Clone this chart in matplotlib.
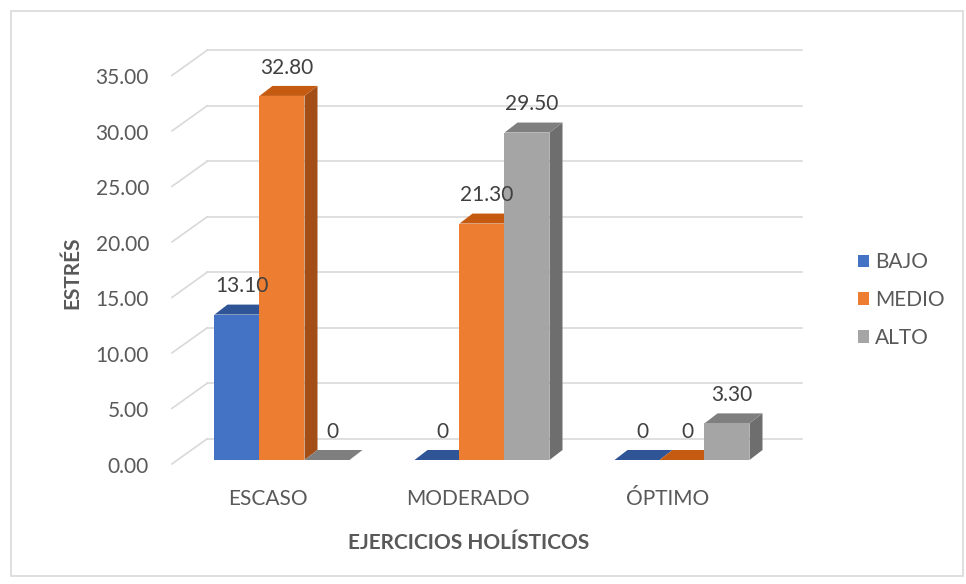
"""3D-looking clustered column chart: estrés by ejercicios holísticos."""

import matplotlib.pyplot as plt
from matplotlib.patches import Polygon, Patch, Rectangle

plt.rcParams["font.family"] = ["Lato", "DejaVu Sans"]

CATEGORIES = ["ESCASO", "MODERADO", "ÓPTIMO"]
SERIES = ["BAJO", "MEDIO", "ALTO"]
BAJO = [13.10, 0, 0]
MEDIO = [32.80, 21.30, 0]
ALTO = [0, 29.50, 3.30]
Y_TICKS = [0, 5, 10, 15, 20, 25, 30, 35]

FRONT = ["#4472C4", "#ED7D31", "#A5A5A5"]
TOP = ["#2F5597", "#C55A11", "#7F7F7F"]
SIDE = ["#2E4F8A", "#A24E16", "#6E6E6E"]
TEXT = "#595959"
GRID = "#D9D9D9"

W_PX, H_PX = 966, 584
BASE_PX, UNIT_PX = 460, 11.1      # pixel row of value 0, pixels per value unit
CAT0_PX, CAT_PX = 282, 200        # pixel column of first category, pixels per category


def px_x(p):
    return (p - CAT0_PX) / CAT_PX


def px_y(p):
    return (BASE_PX - p) / UNIT_PX


fig = plt.figure(figsize=(W_PX / 100, H_PX / 100), dpi=100)
ax = fig.add_axes([0, 0, 1, 1])
ax.set_xlim(px_x(0), px_x(W_PX))
ax.set_ylim(px_y(H_PX), px_y(0))
ax.axis("off")

fig.patches.append(Rectangle((11 / W_PX, 1 - 576 / H_PX), 952 / W_PX, 565 / H_PX,
                             transform=fig.transFigure, fill=False, edgecolor=GRID, lw=1.2))

# back wall gridlines and the short diagonals from the value labels
back_dy = 1.9
x_front, x_back, x_end = px_x(172), px_x(207), px_x(802)
for v in Y_TICKS:
    ax.plot([x_back, x_end], [v + back_dy, v + back_dy], color=GRID, lw=1.2, zorder=1)
    ax.plot([x_front, x_back], [v - 0.35, v + back_dy], color=GRID, lw=1.2, zorder=1)
    ax.text(px_x(149), v - 0.6, f"{v:.2f}", ha="right", va="center", fontsize=15, color=TEXT)

# columns with fake depth
bw = 45 / CAT_PX
dx, dy = 13 / CAT_PX, 10 / UNIT_PX
z = 2
for ci in range(len(CATEGORIES)):
    for si, vals in enumerate([BAJO, MEDIO, ALTO]):
        h = vals[ci]
        xc = ci + (si - 1) * bw
        x0, x1 = xc - bw / 2, xc + bw / 2
        ax.add_patch(Polygon([(x1, 0), (x1 + dx, dy), (x1 + dx, h + dy), (x1, h)],
                             closed=True, facecolor=SIDE[si], edgecolor="none", zorder=z))
        ax.add_patch(Polygon([(x0, h), (x1, h), (x1 + dx, h + dy), (x0 + dx, h + dy)],
                             closed=True, facecolor=TOP[si], edgecolor="none", zorder=z))
        ax.bar(xc, h, width=bw, bottom=0, color=FRONT[si], edgecolor="none", zorder=z + 0.5)
        label = "0" if h == 0 else f"{h:.2f}"
        ax.text(xc + 0.025, h + 2.55, label, ha="center", va="center",
                fontsize=15, color="#404040", zorder=10)
        z += 1

for ci, name in enumerate(CATEGORIES):
    ax.text(ci - 0.07, px_y(499), name, ha="center", va="center", fontsize=15, color=TEXT)

ax.text(px_x(469), px_y(543), "EJERCICIOS HOLÍSTICOS", ha="center", va="center",
        fontsize=15, fontweight="bold", color=TEXT)
ax.text(px_x(72), px_y(273), "ESTRÉS", ha="center", va="center", rotation=90,
        fontsize=15, fontweight="bold", color=TEXT)

handles = [Patch(facecolor=c, edgecolor="none", label=s) for c, s in zip(FRONT, SERIES)]
ax.legend(handles=handles, loc="center left", bbox_to_anchor=(858 / W_PX, 1 - 300 / H_PX),
          frameon=False, fontsize=15, labelcolor=TEXT, handlelength=0.55, handleheight=0.55,
          handletextpad=0.25, labelspacing=0.85, borderpad=0, borderaxespad=0)

fig.savefig("out.png", dpi=100)
